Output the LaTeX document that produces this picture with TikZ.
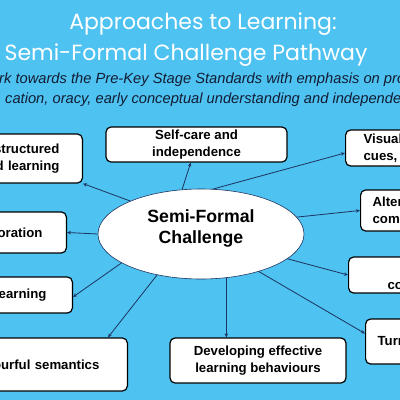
\documentclass[tikz,border=0pt]{standalone}
\usepackage{fontspec}
\setmainfont{Liberation Sans}
\newfontfamily\titlefont{Poppins}
\usetikzlibrary{calc,arrows.meta,shapes.geometric}
\definecolor{bgblue}{RGB}{78,194,240}
\definecolor{linkblue}{RGB}{28,52,96}
\definecolor{subink}{RGB}{18,28,52}
\tikzset{
  box/.style={draw=black, line width=1.2pt, fill=white, rounded corners=5pt,
    font=\fontsize{13.2}{17}\selectfont\bfseries, inner ysep=2pt},
  link/.style={draw=linkblue, line width=0.8pt, -{Stealth[length=4pt,width=3.5pt]}}
}
\begin{document}
\begin{tikzpicture}[x=1pt, y=-1pt]
			%%%%% BACKGROUND %%%%%
			\path[use as bounding box, clip] (0, 0) rectangle (400, 400);
			\fill[bgblue] (0, 0) rectangle (400, 400);
			
			%%%%% HEADINGS %%%%%
			\node[text=white, font=\titlefont\fontsize{22}{26}\selectfont] (title) at (203, 24) {Approaches to Learning:};
			\node[text=white, font=\titlefont\fontsize{22}{26}\selectfont] (pathway) at (186, 55) {Semi-Formal Challenge Pathway};
			\node[anchor=west, inner sep=0pt, text=subink, font=\fontsize{14.7}{17}\selectfont\itshape] (aim) at (-1, 80) {rk towards the Pre-Key Stage Standards with emphasis on pro};
			\node[anchor=west, inner sep=0pt, text=subink, font=\fontsize{14.7}{17}\selectfont\itshape] (aimb) at (5, 100) {cation, oracy, early conceptual understanding and independe};
			
			%%%%% CENTRE %%%%%
			\node[ellipse, draw=linkblue, line width=0.6pt, fill=white, minimum width=206, minimum height=90, align=center,
			  text depth=15pt, font=\fontsize{17.7}{21}\selectfont\bfseries] (chal) at (201, 234) {Semi-Formal\\Challenge};
			
			%%%%% BOXES %%%%%
			\node[box, anchor=east, text width=120, align=right, inner xsep=23, minimum height=49] (struct) at (83, 158.5) {-structured\\d learning};
			\node[box, align=center, minimum width=181, minimum height=35] (selfcare) at (196.5, 144.5) {Self-care and\\independence};
			\node[box, anchor=west, text width=120, align=left, inner xsep=18, minimum height=36] (visual) at (345, 148) {Visual\\cues,};
			\node[box, anchor=west, text width=120, align=left, inner xsep=12, minimum height=41] (alter) at (360, 210.5) {Alter\\com};
			\node[box, anchor=east, text width=120, align=right, inner xsep=24, minimum height=41] (oration) at (67, 232.5) {oration};
			\node[box, anchor=west, text width=120, align=left, inner xsep=39, minimum height=36] (cobox) at (348, 275) {\strut\\co};
			\node[box, anchor=east, text width=120, align=right, inner xsep=26, minimum height=36] (earning) at (73, 295) {earning};
			\node[box, anchor=west, text width=120, align=left, inner xsep=12, minimum height=45] (turn) at (365, 341.5) {Turn};
			\node[box, anchor=east, text width=160, align=right, inner xsep=28, minimum height=53] (semantic) at (128, 364.5) {ourful semantics};
			\node[box, align=center, minimum width=176, minimum height=45] (develop) at (258, 360.5) {Developing effective\\learning behaviours};
			
			%%%%% LINKS %%%%%
			\draw[link] (chal.155) -- (struct.south east);
			\draw[link] (chal.113) -- (selfcare);
			\draw[link] (chal.75) -- ($(visual.west)+(0, 5)$);
			\draw[link] (chal.10) -- (alter.west);
			\draw[link] (chal.-16) -- (cobox.west);
			\draw[link] (chal.-33) -- ($(turn.west)+(0, -8)$);
			\draw[link] (chal.-60) -- (chal.-60 |- develop.north);
			\draw[link] (chal.223) -- ($(semantic.north east)+(-20, 0)$);
			\draw[link] (chal.200) -- ($(earning.east)+(0, 2)$);
			\draw[link] (chal.180) -- (oration.east);
			
\end{tikzpicture}
\end{document}
